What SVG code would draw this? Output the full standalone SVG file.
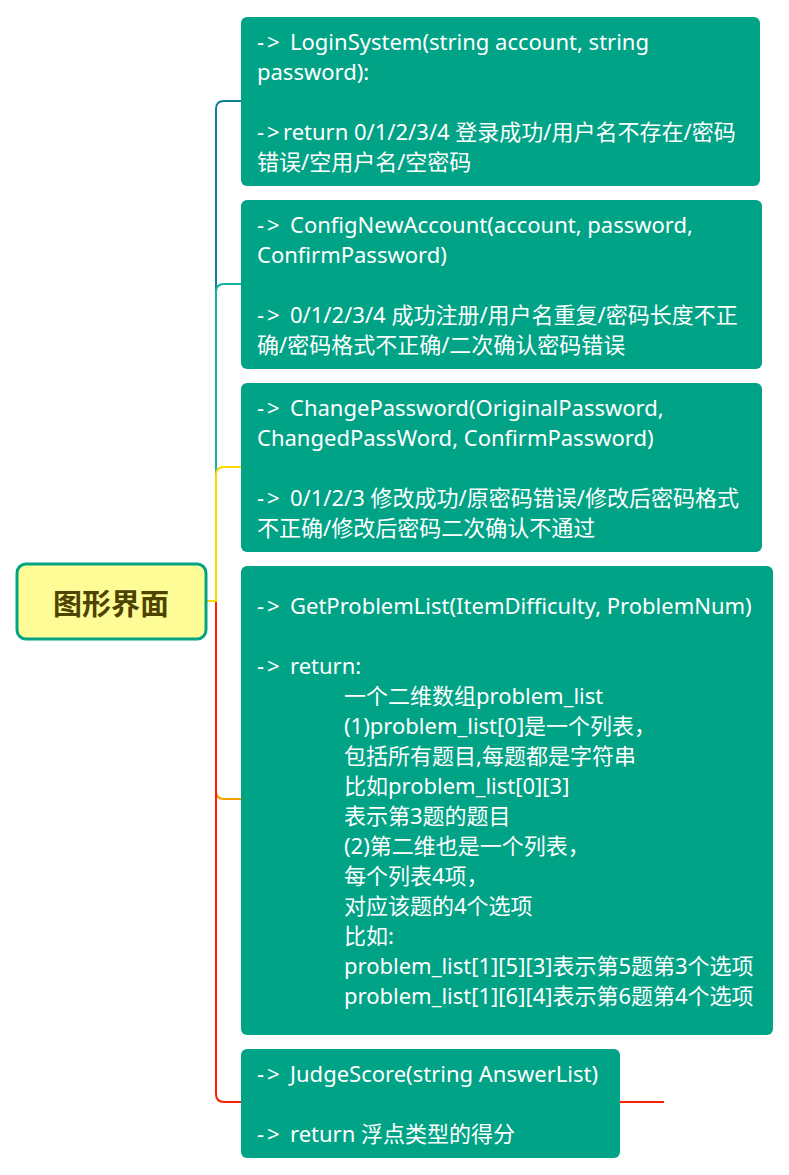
<svg xmlns="http://www.w3.org/2000/svg" width="789" height="1175" viewBox="0 0 789 1175">
<style>
.n{fill:#01a386}
.t{font-family:"Noto Sans","Noto Sans CJK SC",sans-serif;font-size:22px;fill:#ffffff}
.a{letter-spacing:3px}
.c{fill:none;stroke-width:2}
</style>
<rect width="789" height="1175" fill="#ffffff"/>
<g id="connectors">
<path class="c" stroke="#0e7f95" d="M207,601 H216 V109 Q216,101 224,101 H241"/>
<path class="c" stroke="#1ab3a2" d="M207,601 H216 V292 Q216,284 224,284 H241"/>
<path class="c" stroke="#f5a000" d="M207,601 H216 V791 Q216,799 224,799 H241"/>
<path class="c" stroke="#ff1f00" d="M207,601 H216 V1094 Q216,1102 224,1102 H664"/>
<path class="c" stroke="#ffd800" d="M207,601 H216 V475 Q216,467 224,467 H241"/>
</g>
<g id="root">
<rect x="17" y="564" width="189" height="75" rx="9" fill="#fefc96" stroke="#01a386" stroke-width="3"/>
<text x="111" y="615" text-anchor="middle" font-family="Noto Sans CJK SC,sans-serif" font-size="29" font-weight="bold" fill="#4c4400">图形界面</text>
</g>
<g id="node1">
<rect class="n" x="241" y="17" width="519" height="169" rx="6"/>
<text class="t" x="257" y="50"><tspan class="a">-&gt;</tspan><tspan x="290">LoginSystem(string account, string</tspan></text>
<text class="t" x="257" y="80">password):</text>
<text class="t" x="257" y="140"><tspan class="a">-&gt;</tspan><tspan x="283">return 0/1/2/3/4 登录成功/用户名不存在/密码</tspan></text>
<text class="t" x="257" y="170">错误/空用户名/空密码</text>
</g>
<g id="node2">
<rect class="n" x="241" y="200" width="521" height="169" rx="6"/>
<text class="t" x="257" y="233"><tspan class="a">-&gt;</tspan><tspan x="290">ConfigNewAccount(account, password,</tspan></text>
<text class="t" x="257" y="263">ConfirmPassword)</text>
<text class="t" x="257" y="323"><tspan class="a">-&gt;</tspan><tspan x="290">0/1/2/3/4 成功注册/用户名重复/密码长度不正</tspan></text>
<text class="t" x="257" y="353">确/密码格式不正确/二次确认密码错误</text>
</g>
<g id="node3">
<rect class="n" x="241" y="383" width="521" height="169" rx="6"/>
<text class="t" x="257" y="416"><tspan class="a">-&gt;</tspan><tspan x="290">ChangePassword(OriginalPassword,</tspan></text>
<text class="t" x="257" y="446">ChangedPassWord, ConfirmPassword)</text>
<text class="t" x="257" y="506"><tspan class="a">-&gt;</tspan><tspan x="290">0/1/2/3 修改成功/原密码错误/修改后密码格式</tspan></text>
<text class="t" x="257" y="536">不正确/修改后密码二次确认不通过</text>
</g>
<g id="node4">
<rect class="n" x="241" y="566" width="532" height="469" rx="6"/>
<text class="t" x="257" y="614"><tspan class="a">-&gt;</tspan><tspan x="290">GetProblemList(ItemDifficulty, ProblemNum)</tspan></text>
<text class="t" x="257" y="674"><tspan class="a">-&gt;</tspan><tspan x="290">return:</tspan></text>
<text class="t" x="344" y="704">一个二维数组problem_list</text>
<text class="t" x="344" y="734">(1)problem_list[0]是一个列表，</text>
<text class="t" x="344" y="764">包括所有题目,每题都是字符串</text>
<text class="t" x="344" y="794">比如problem_list[0][3]</text>
<text class="t" x="344" y="824">表示第3题的题目</text>
<text class="t" x="344" y="854">(2)第二维也是一个列表，</text>
<text class="t" x="344" y="884">每个列表4项，</text>
<text class="t" x="344" y="914">对应该题的4个选项</text>
<text class="t" x="344" y="944">比如:</text>
<text class="t" x="344" y="974">problem_list[1][5][3]表示第5题第3个选项</text>
<text class="t" x="344" y="1004">problem_list[1][6][4]表示第6题第4个选项</text>
</g>
<g id="node5">
<rect class="n" x="241" y="1049" width="379" height="109" rx="6"/>
<text class="t" x="257" y="1082"><tspan class="a">-&gt;</tspan><tspan x="290">JudgeScore(string AnswerList)</tspan></text>
<text class="t" x="257" y="1142"><tspan class="a">-&gt;</tspan><tspan x="290">return 浮点类型的得分</tspan></text>
</g>
</svg>
